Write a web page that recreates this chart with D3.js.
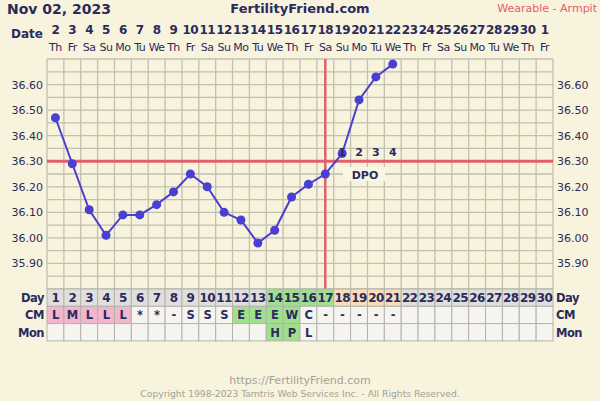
<!DOCTYPE html>
<html><head><meta charset="utf-8">
<script src="https://cdn.jsdelivr.net/npm/d3@7"></script>
<style>body{margin:0;background:#f8f3dc;}svg{display:block;font-family:"DejaVu Sans",sans-serif;}</style>
</head><body><svg id="c" width="600" height="401"></svg>
<script>
const days = d3.range(1,31);
const dates = ["2","3","4","5","6","7","8","9","10","11","12","13","14","15","16","17","18","19","20","21","22","23","24","25","26","27","28","29","30","1"];
const weekdays = ["Th","Fr","Sa","Su","Mo","Tu","We","Th","Fr","Sa","Su","Mo","Tu","We","Th","Fr","Sa","Su","Mo","Tu","We","Th","Fr","Sa","Su","Mo","Tu","We","Th","Fr"];
const temps = [36.47,36.29,36.11,36.01,36.09,36.09,36.13,36.18,36.25,36.20,36.10,36.07,35.98,36.03,36.16,36.21,36.25,36.33,36.54,36.63,36.68];
const yTicks = [35.90,36.00,36.10,36.20,36.30,36.40,36.50,36.60];
const coverline = 36.30;
const ovulationDay = 17;
const dpoLabels = ["1","2","3","4"];
const cm = ["L","M","L","L","L","*","*","-","S","S","S","E","E","E","W","C","-","-","-","-","-"];
const mon = ["","","","","","","","","","","","","","H","P","L"];
const dayColor = d=> d>=14&&d<=17 ? "#9fe08c" : (d>=18&&d<=21 ? "#fbdcb8" : "#e0dfdc");
const cmColor = (v,i)=> i<5 ? "#f1b6cb" : (i>=11&&i<=14 ? "#9fe08c" : "#f5f4ef");
const monColor = (v,i)=> (i===13||i===14) ? "#9fe08c" : "#f5f4ef";

const svg = d3.select("#c");
const L=47, R=553, T=59, B=289;
const x = d3.scaleBand().domain(days).range([L,R]);
const y = d3.scaleLinear().domain([35.80,36.70]).range([B,T]);
const navy="#2b2a5c";

// header
svg.append("text").attr("x",7).attr("y",14).attr("font-size",14).attr("font-weight","bold").attr("fill",navy).text("Nov 02, 2023");
svg.append("text").attr("x",300).attr("y",13).attr("text-anchor","middle").attr("font-size",13).attr("font-weight","bold").attr("fill",navy).text("FertilityFriend.com");
svg.append("text").attr("x",597).attr("y",12).attr("text-anchor","end").attr("font-size",11).attr("fill","#e0606c").text("Wearable - Armpit");
svg.append("text").attr("x",43).attr("y",38).attr("text-anchor","end").attr("font-size",12).attr("font-weight","bold").attr("fill",navy).text("Date");
svg.append("g").selectAll("text").data(dates).join("text")
  .attr("x",(d,i)=>x(i+1)+x.bandwidth()/2).attr("y",34).attr("text-anchor","middle")
  .attr("font-size",12).attr("font-weight","bold").attr("fill",navy).attr("letter-spacing",-0.5).text(d=>d);
svg.append("g").selectAll("text").data(weekdays).join("text")
  .attr("x",(d,i)=>x(i+1)+x.bandwidth()/2).attr("y",51).attr("text-anchor","middle")
  .attr("font-size",11).attr("fill",navy).attr("letter-spacing",-0.5).text(d=>d);

// grid
const g = svg.append("g");
const hLines = d3.range(0,19).map(i=>35.80+i*0.05);
g.selectAll(".h").data(hLines).join("line").attr("x1",L).attr("x2",R)
  .attr("y1",d=>y(d)).attr("y2",d=>y(d)).attr("stroke","#c2bfb3").attr("stroke-width",1.3);
g.selectAll(".v").data(d3.range(0,31)).join("line")
  .attr("x1",i=>L+i*x.bandwidth()).attr("x2",i=>L+i*x.bandwidth())
  .attr("y1",T).attr("y2",B).attr("stroke","#c2bfb3").attr("stroke-width",1.3);

// y labels
svg.append("g").selectAll("text").data(yTicks).join("text").attr("x",43).attr("y",d=>y(d)+4)
  .attr("text-anchor","end").attr("font-size",11).attr("fill",navy).text(d=>d.toFixed(2));
svg.append("g").selectAll("text").data(yTicks).join("text").attr("x",557).attr("y",d=>y(d)+4)
  .attr("text-anchor","start").attr("font-size",11).attr("fill",navy).text(d=>d.toFixed(2));

// coverline & ovulation
svg.append("line").attr("x1",L).attr("x2",R).attr("y1",y(coverline)).attr("y2",y(coverline)).attr("stroke","#e0606c").attr("stroke-width",3);
const ox = x(ovulationDay)+x.bandwidth()/2;
svg.append("line").attr("x1",ox).attr("x2",ox).attr("y1",T).attr("y2",B).attr("stroke","#e0606c").attr("stroke-width",2.5);

// DPO box
svg.append("rect").attr("x",343).attr("y",167).attr("width",42).attr("height",14).attr("fill","#faf6e6");
svg.append("text").attr("x",365).attr("y",179).attr("text-anchor","middle").attr("font-size",11).attr("font-weight","bold").attr("fill",navy).text("DPO");

// temp line
const line = d3.line().x((d,i)=>x(i+1)+x.bandwidth()/2).y(d=>y(d));
svg.append("path").datum(temps).attr("d",line).attr("fill","none").attr("stroke","#4b3fd3").attr("stroke-width",2);
svg.append("g").selectAll("circle").data(temps).join("circle")
  .attr("cx",(d,i)=>x(i+1)+x.bandwidth()/2).attr("cy",d=>y(d)).attr("r",4.5).attr("fill","#4b3fd3");

// DPO numbers on top
svg.append("g").selectAll("text").data(dpoLabels).join("text")
  .attr("x",(d,i)=>x(ovulationDay+1+i)+x.bandwidth()/2).attr("y",156).attr("text-anchor","middle")
  .attr("font-size",11).attr("font-weight","bold").attr("fill",navy).text(d=>d);

// table
const rowH=17.3, t0=B;
const rows=[
 {name:"Day", vals:days.map(String), col:(v,i)=>dayColor(i+1)},
 {name:"CM", vals:days.map((d,i)=>cm[i]||""), col:cmColor},
 {name:"Mon", vals:days.map((d,i)=>mon[i]||""), col:monColor}
];
rows.forEach((r,ri)=>{
  const ry=t0+ri*rowH;
  const gg=svg.append("g");
  gg.selectAll("rect").data(r.vals).join("rect")
   .attr("x",(d,i)=>x(i+1)).attr("y",ry).attr("width",x.bandwidth()).attr("height",rowH)
   .attr("fill",(d,i)=>r.col(d,i)).attr("stroke","#b4b2ac").attr("stroke-width",1);
  gg.selectAll("text").data(r.vals).join("text")
   .attr("x",(d,i)=>x(i+1)+x.bandwidth()/2).attr("y",ry+rowH/2+4.5).attr("text-anchor","middle")
   .attr("font-size",ri===0?12:11.5).attr("font-weight","bold").attr("letter-spacing",-0.6).attr("fill",navy).text(d=>d);
  svg.append("text").attr("x",44).attr("y",ry+rowH/2+4.5).attr("text-anchor","end").attr("font-size",11.5).attr("font-weight","bold").attr("fill",navy).attr("letter-spacing",-0.5).text(r.name);
  svg.append("text").attr("x",556).attr("y",ry+rowH/2+4.5).attr("text-anchor","start").attr("font-size",11.5).attr("font-weight","bold").attr("fill",navy).attr("letter-spacing",-0.5).text(r.name);
});

// footer
svg.append("text").attr("x",300).attr("y",384).attr("text-anchor","middle").attr("font-size",11).attr("fill","#a3a19a").text("https://FertilityFriend.com");
svg.append("text").attr("x",300).attr("y",397).attr("text-anchor","middle").attr("font-size",9.2).attr("fill","#a3a19a").text("Copyright 1998-2023 Tamtris Web Services Inc. - All Rights Reserved.");
</script></body></html>
